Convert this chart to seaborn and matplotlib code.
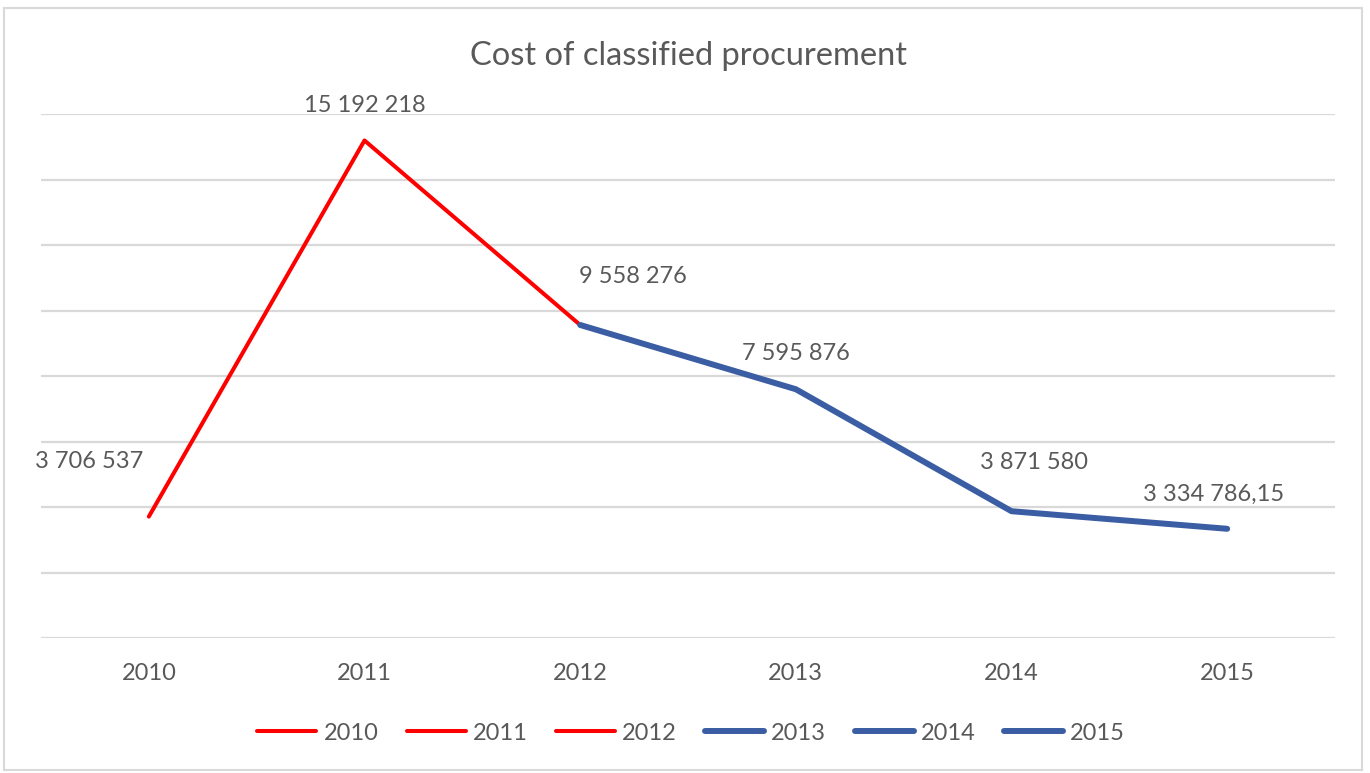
import matplotlib
matplotlib.use("Agg")
import matplotlib.pyplot as plt
import seaborn as sns
import pandas as pd
from matplotlib.lines import Line2D
from matplotlib.patches import Rectangle

# ---- data ----
years = ["2010", "2011", "2012", "2013", "2014", "2015"]
values = [3706537, 15192218, 9558276, 7595876, 3871580, 3334786.15]
value_labels = ["3 706 537", "15 192 218", "9 558 276", "7 595 876", "3 871 580", "3 334 786,15"]
red_years = ["2010", "2011", "2012"]
blue_years = ["2012", "2013", "2014", "2015"]
title = "Cost of classified procurement"

RED = "#FF0000"
BLUE = "#3A5DA3"
GRID = "#D9D9D9"
TXT = "#595959"

sns.set_theme(style="white")
plt.rcParams["font.family"] = ["Lato", "DejaVu Sans"]

df = pd.DataFrame({"year": years, "value": values, "pos": list(range(len(years)))})

fig = plt.figure(figsize=(13.70, 7.73), dpi=100)
ax = fig.add_axes([41 / 1370, 1 - 638 / 773, (1335 - 41) / 1370, (638 - 114) / 773])

sns.lineplot(data=df[df["year"].isin(red_years)], x="pos", y="value", ax=ax,
             color=RED, linewidth=2.9, solid_capstyle="round", sort=False)
sns.lineplot(data=df[df["year"].isin(blue_years)], x="pos", y="value", ax=ax,
             color=BLUE, linewidth=4.3, solid_capstyle="round", sort=False)

ax.set_xlim(-0.5, len(years) - 0.5)
ax.set_ylim(0, 16e6)
ax.set_yticks([i * 2e6 for i in range(9)])
ax.set_yticklabels([])
ax.set_xticks(df["pos"])
ax.set_xticklabels(years, fontsize=17, color=TXT)
ax.tick_params(axis="both", length=0)
ax.tick_params(axis="x", pad=18)
ax.grid(axis="y", color=GRID, linewidth=1.6)
ax.grid(axis="x", visible=False)
for s in ax.spines.values():
    s.set_visible(False)
ax.set_xlabel("")
ax.set_ylabel("")

# data labels (pixel offsets)
offsets = [(-60, 55), (0, 35), (53, 48), (0, 36), (22, 49), (-14, 34)]
for i, (v, lab) in enumerate(zip(values, value_labels)):
    dx, dy = offsets[i]
    ax.annotate(lab, (i, v), xytext=(dx, dy), textcoords="offset pixels",
                ha="center", va="center", fontsize=17, color=TXT)

fig.text(688 / 1370, 1 - 56 / 773, title, ha="center", va="center",
         fontsize=23.5, color=TXT)

# legend
handles = []
for y in years:
    if y in ["2010", "2011", "2012"]:
        handles.append(Line2D([], [], color=RED, linewidth=2.9, solid_capstyle="round"))
    else:
        handles.append(Line2D([], [], color=BLUE, linewidth=4.3, solid_capstyle="round"))
leg = fig.legend(handles, years, loc="center", bbox_to_anchor=(691 / 1370, 1 - 733 / 773),
                 ncol=6, frameon=False, fontsize=17, handlelength=2.5,
                 handletextpad=0.3, columnspacing=1.2)
for t in leg.get_texts():
    t.set_color(TXT)

fig.patches.append(Rectangle((4 / 1370, 3 / 773), (1362 - 4) / 1370, (770 - 8) / 773,
                             transform=fig.transFigure, fill=False,
                             edgecolor=GRID, linewidth=1.5))

fig.savefig("out.png", dpi=100, facecolor="white")
